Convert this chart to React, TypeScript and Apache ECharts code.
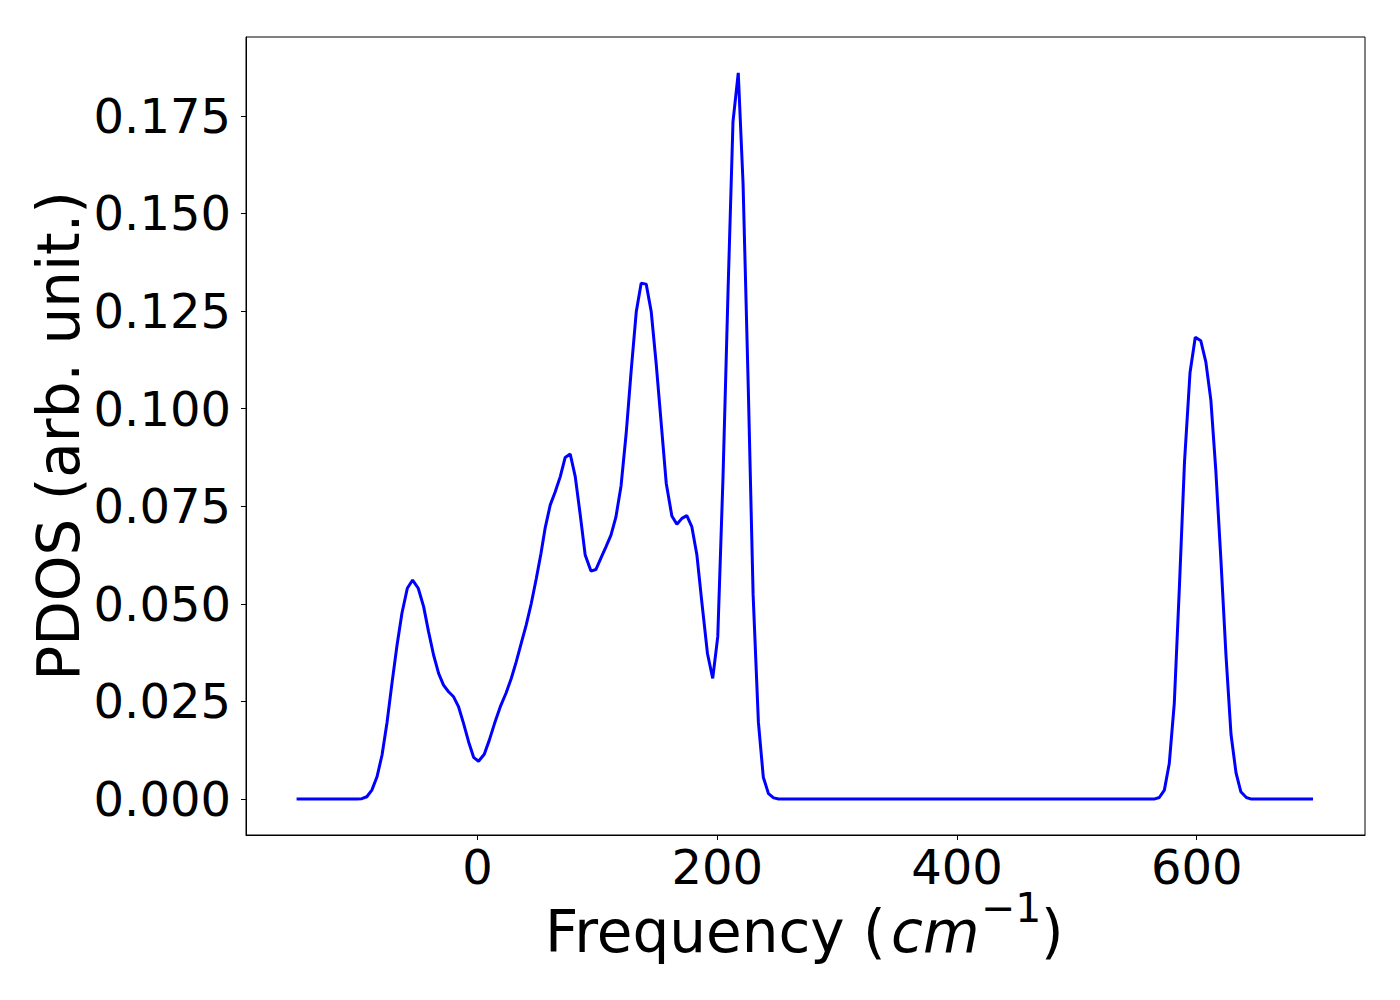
import React, { useEffect, useRef } from "react";
import * as echarts from "echarts";

// Frequency (cm^-1) of each vertex of the PDOS curve
const freq = [
  -151, -100.8, -96.6, -92.4, -88.2, -83.9, -79.7, -75.6, -71.4, -67.2, -63.1, -58.6, -54.2, -49.5, -45.0,
  -40.9, -36.7, -32.5, -28.4, -24.2, -20.0, -15.8, -11.7, -7.5, -3.3, 0.8, 5.6, 9.8, 14.2, 18.9,
  23.7, 28.1, 32.3, 36.4, 40.6, 44.8, 49.0, 52.9, 56.5, 60.6, 64.8, 69.0, 73.1, 77.3, 81.5,
  85.7, 89.8, 94.6, 98.7, 102.9, 107.1, 111.3, 115.4, 119.7, 124.0, 128.2, 132.4, 136.5, 140.7,
  144.9, 149.0, 153.2, 157.4, 162.1, 166.3, 170.5, 174.6, 178.8, 183.0, 187.2, 191.8, 196.2, 200.4,
  204.8, 209.0, 213.1, 217.5, 221.5, 225.8, 229.9, 234.3, 238.4, 242.7, 247.0, 251.2,
  564.4, 568.8, 573.0, 577.1, 581.3, 585.5, 589.8, 594.4, 598.8, 603.4, 607.6, 611.8, 615.9, 620.2,
  624.4, 628.6, 632.8, 636.8, 641.4, 645.6, 697,
];

// PDOS (arb. unit.) at each vertex
const pdos = [
  0, 0, 0.0001, 0.0006, 0.0023, 0.0057, 0.0113, 0.0195, 0.0297, 0.0394, 0.0476, 0.054, 0.0561, 0.054, 0.0493,
  0.0429, 0.0369, 0.0322, 0.0292, 0.0275, 0.0262, 0.0236, 0.0194, 0.0147, 0.0107, 0.0097, 0.0115, 0.0151, 0.0194, 0.0236,
  0.0271, 0.0309, 0.0352, 0.0399, 0.0446, 0.0501, 0.0565, 0.0629, 0.0696, 0.0753, 0.0787, 0.0826, 0.0875, 0.0884, 0.0826,
  0.0727, 0.0625, 0.0584, 0.0588, 0.0617, 0.0646, 0.0676, 0.0722, 0.0802, 0.0937, 0.1099, 0.1248, 0.1321, 0.1319,
  0.1248, 0.1116, 0.0963, 0.0809, 0.0725, 0.0704, 0.0719, 0.0726, 0.0697, 0.0625, 0.0502, 0.0373, 0.0309, 0.0416,
  0.0827, 0.1304, 0.1735, 0.186, 0.1577, 0.106, 0.0523, 0.0197, 0.0056, 0.0014, 0.0003, 0,
  0, 0.0004, 0.0023, 0.0091, 0.0246, 0.054, 0.0863, 0.1092, 0.1183, 0.1174, 0.112, 0.1022, 0.0843, 0.0612,
  0.0369, 0.0166, 0.0067, 0.0019, 0.0004, 0, 0,
];

const xTicks = [0, 200, 400, 600];
const yTicks = [0, 0.025, 0.05, 0.075, 0.1, 0.125, 0.15, 0.175];

const FONT = "DejaVu Sans";

export default function App() {
  const ref = useRef<HTMLDivElement>(null);
  useEffect(() => {
    if (!ref.current) return;
    const chart = echarts.init(ref.current, null, { renderer: "svg" });
    const data = freq.map((f, i) => [f, pdos[i]]);
    chart.setOption({
      animation: false,
      backgroundColor: "#ffffff",
      grid: {
        left: 246,
        right: 35,
        top: 37,
        bottom: 165,
        show: true,
        borderColor: "#000",
        borderWidth: 1,
        backgroundColor: "transparent",
      },
      xAxis: {
        type: "value",
        min: -193.2,
        max: 740.4,
        splitLine: { show: false },
        axisLine: { show: true, onZero: false, lineStyle: { color: "#000", width: 1 } },
        axisTick: {
          show: true,
          inside: false,
          length: 5,
          customValues: xTicks,
          lineStyle: { color: "#000", width: 1 },
        },
        axisLabel: {
          customValues: xTicks,
          fontFamily: FONT,
          fontSize: 48,
          color: "#000",
          margin: 8,
        },
      },
      yAxis: {
        type: "value",
        min: -0.0092,
        max: 0.1952,
        splitLine: { show: false },
        axisLine: { show: true, onZero: false, lineStyle: { color: "#000", width: 1 } },
        axisTick: {
          show: true,
          inside: false,
          length: 5,
          customValues: yTicks,
          lineStyle: { color: "#000", width: 1 },
        },
        axisLabel: {
          customValues: yTicks,
          fontFamily: FONT,
          fontSize: 48,
          color: "#000",
          margin: 15,
          formatter: (v: number) => v.toFixed(3),
        },
      },
      series: [
        {
          type: "line",
          data,
          showSymbol: false,
          symbol: "none",
          lineStyle: { color: "#0000ff", width: 3 },
          z: 3,
        },
      ],
      graphic: [
        {
          type: "text",
          x: 545,
          y: 932,
          style: { text: "Frequency (", fontFamily: FONT, fontSize: 58, fill: "#000", align: "left", verticalAlign: "middle" },
        },
        {
          type: "text",
          x: 891,
          y: 932,
          style: { text: "cm", fontFamily: FONT, fontStyle: "italic", fontSize: 58, fill: "#000", align: "left", verticalAlign: "middle" },
        },
        {
          type: "text",
          x: 981,
          y: 908,
          style: { text: "\u22121", fontFamily: FONT, fontSize: 41, fill: "#000", align: "left", verticalAlign: "middle" },
        },
        {
          type: "text",
          x: 1041,
          y: 932,
          style: { text: ")", fontFamily: FONT, fontSize: 58, fill: "#000", align: "left", verticalAlign: "middle" },
        },
        {
          type: "text",
          x: 59,
          y: 436,
          rotation: Math.PI / 2,
          style: { text: "PDOS (arb. unit.)", fontFamily: FONT, fontSize: 58, fill: "#000", align: "center", verticalAlign: "middle" },
        },
      ],
    });
    return () => chart.dispose();
  }, []);
  return (
    <div
      ref={ref}
      style={{ position: "fixed", left: 0, top: 0, width: 1400, height: 1000, background: "#fff" }}
    />
  );
}
